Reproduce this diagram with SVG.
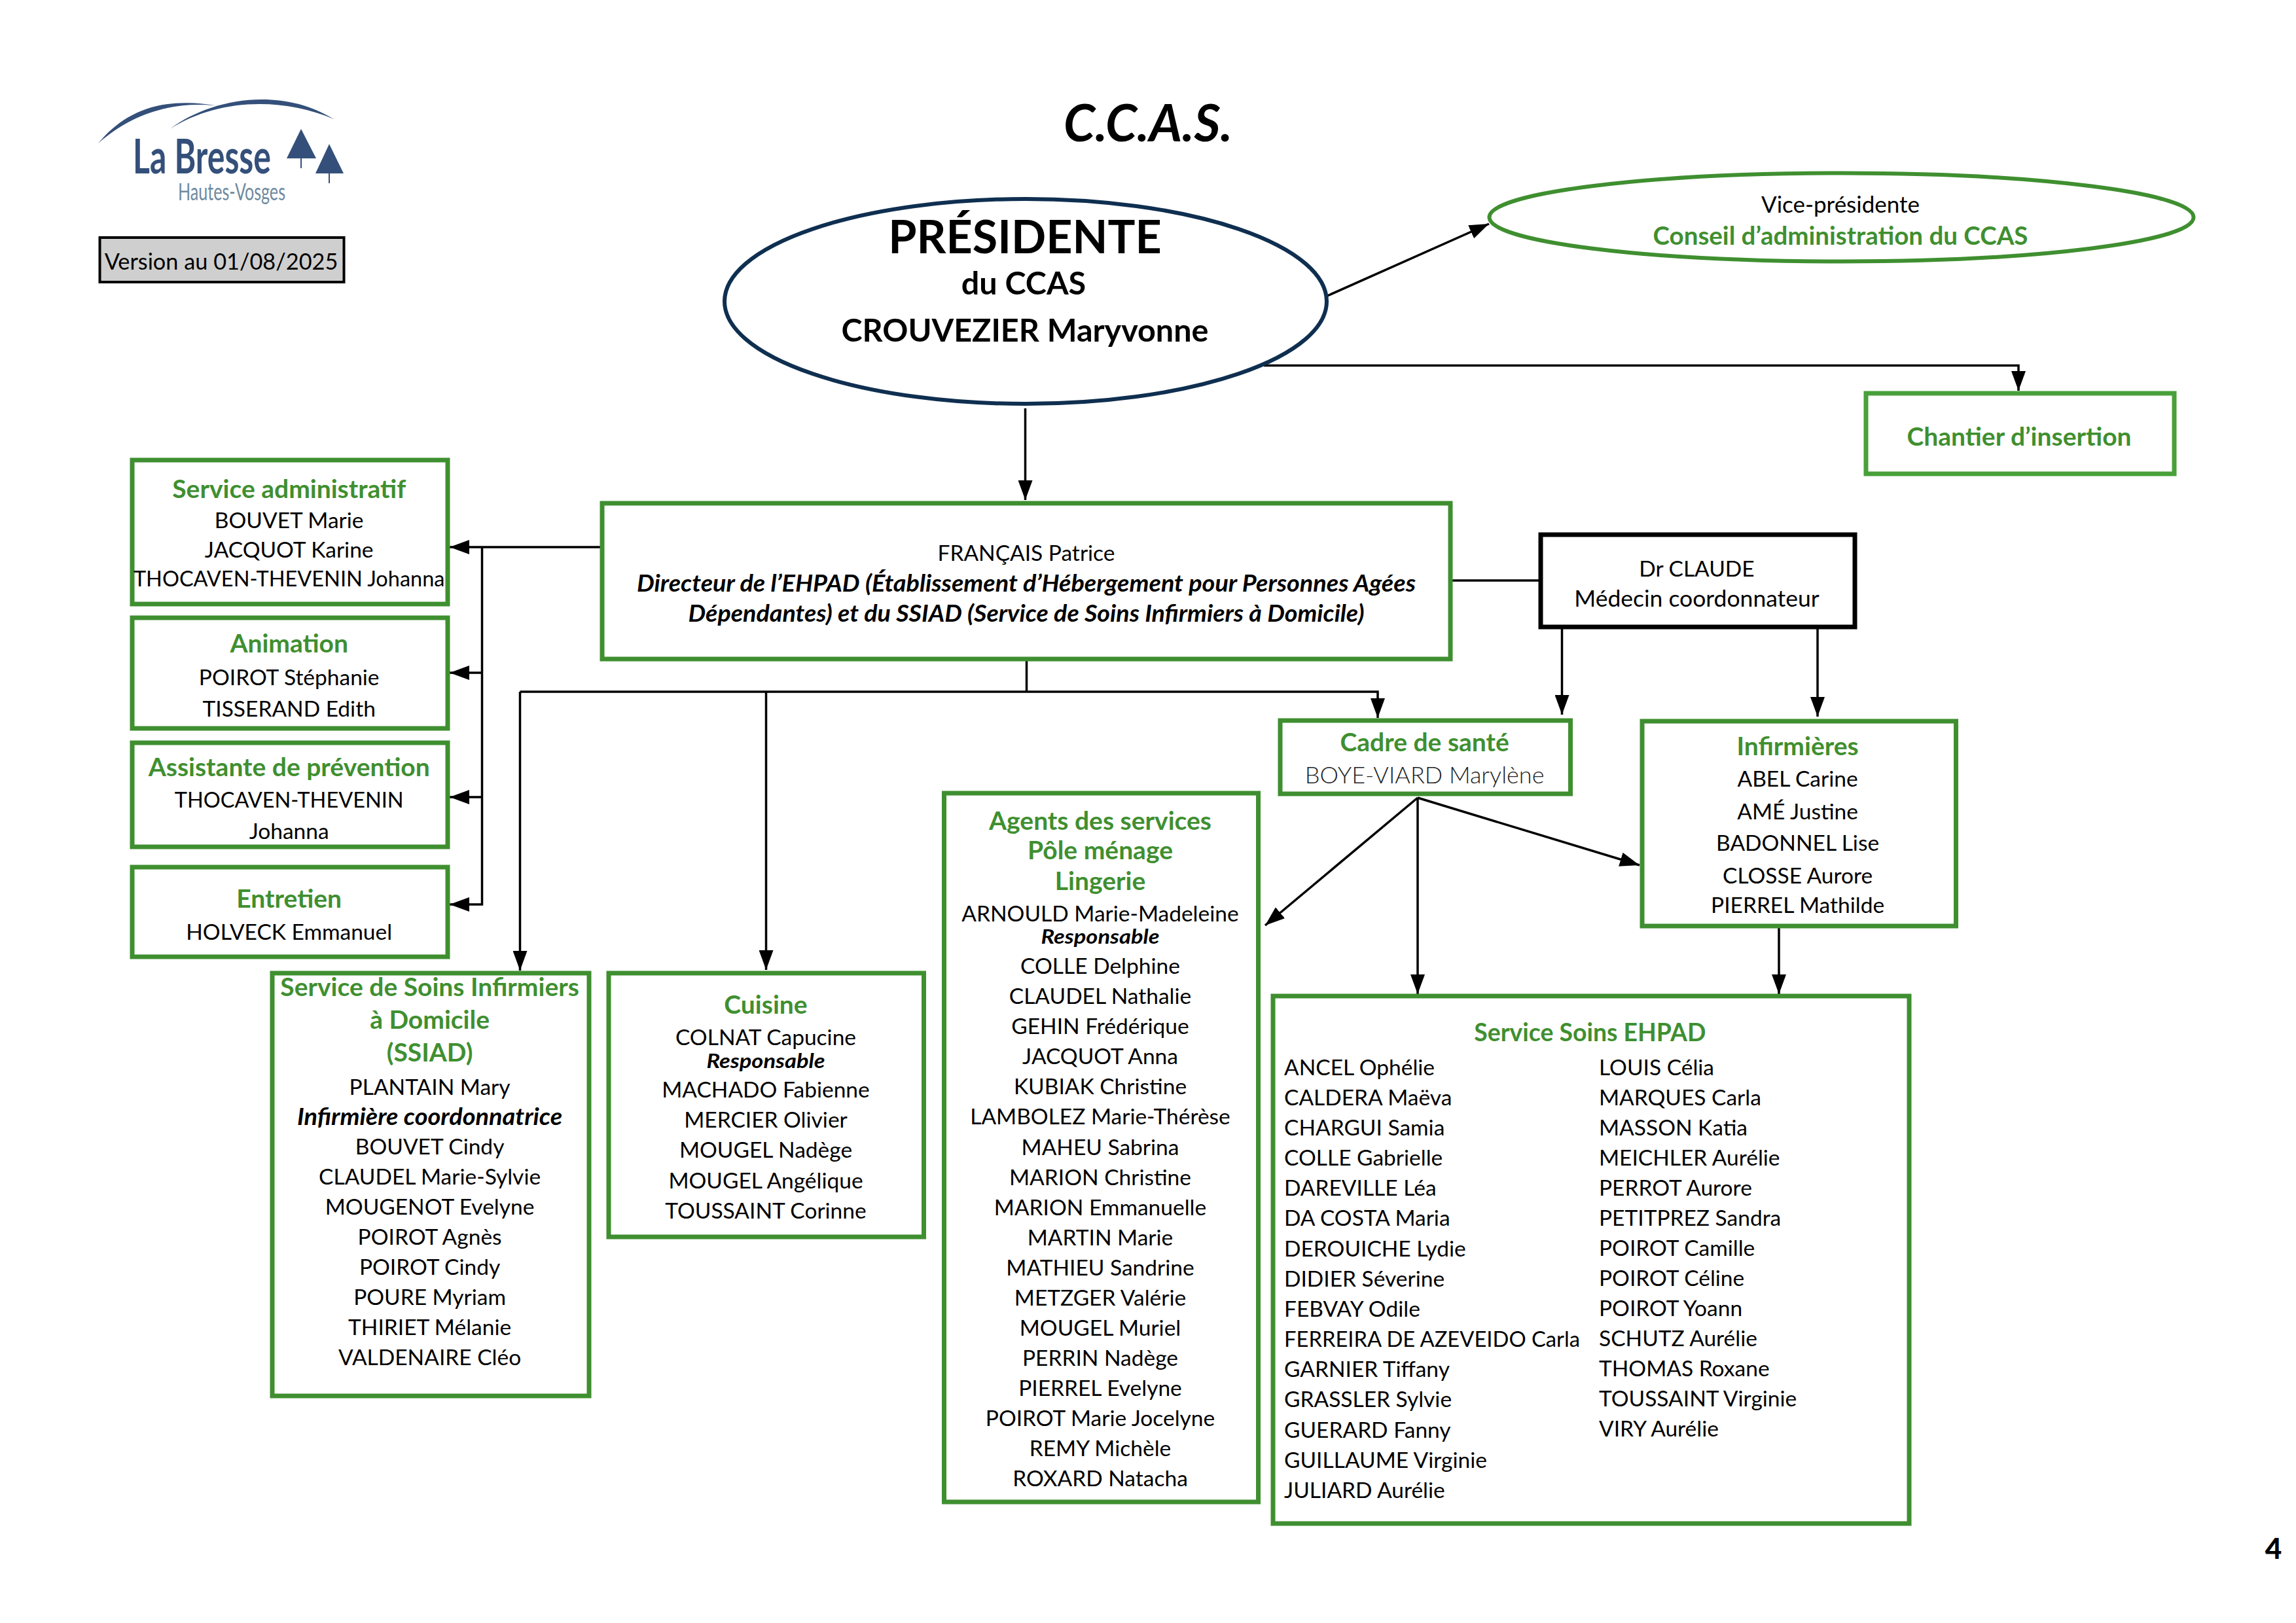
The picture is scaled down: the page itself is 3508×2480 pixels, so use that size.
<svg xmlns="http://www.w3.org/2000/svg" width="3508" height="2480" viewBox="0 0 3508 2480">
<style>
text{font-family:"Lato","Carlito","Liberation Sans",sans-serif;fill:#000;text-anchor:middle;transform:translateY(2px)}
.n{font-size:33.5px}
.t{font-size:39px;font-weight:700;fill:#3f8f30}
.r{font-size:31px;font-weight:700;font-style:italic}
.i{font-size:35.5px;font-weight:700;font-style:italic}
.p{font-size:48.5px;font-weight:700}
.l{text-anchor:start}
.box{fill:#fff;stroke:#3f8f30;stroke-width:7}
.con{fill:none;stroke:#000;stroke-width:3.5}
</style>
<defs>
<marker id="a" markerUnits="userSpaceOnUse" markerWidth="30" markerHeight="22" refX="30" refY="11" orient="auto"><path d="M0 0L30 11L0 22Z" fill="#000"/></marker>
</defs>
<rect width="3508" height="2480" fill="#fff"/>
<g id="logo">
<path d="M150 219C190 171 245 146 335 162C268 154 204 171 150 219Z" fill="#34507a"/>
<path d="M260 197C320 151 428 131 510 182C428 147 330 152 260 197Z" fill="#34507a"/>
<path d="M460 197L438 242H483Z" fill="#34507a"/><path d="M460 242V257" stroke="#34507a" stroke-width="2"/>
<path d="M503 220L482 265H525Z" fill="#34507a"/><path d="M503 265V280" stroke="#34507a" stroke-width="2"/>
<text x="203" y="263" style="text-anchor:start;font-size:72px;font-weight:700;fill:#34507a" textLength="211" lengthAdjust="spacingAndGlyphs">La Bresse</text>
<text x="272" y="304" style="text-anchor:start;font-size:36px;fill:#6f8ba0" textLength="164" lengthAdjust="spacingAndGlyphs">Hautes-Vosges</text>
</g>
<g id="version"><rect x="152.5" y="363" width="373" height="68" fill="#cfcfcf" stroke="#000" stroke-width="4"/><text x="338" y="410" style="font-size:34.3px">Version au 01/08/2025</text></g>
<g id="title"><text x="1754" y="214" style="font-size:78px;font-weight:700;font-style:italic" textLength="258" lengthAdjust="spacingAndGlyphs">C.C.A.S.</text></g>
<g id="connectors">
<path class="con" d="M1566.5 624V764" marker-end="url(#a)"/>
<path class="con" d="M2028 452L2275 342" marker-end="url(#a)"/>
<path class="con" d="M1931 558.5H3084V597" marker-end="url(#a)"/>
<path class="con" d="M917 836H687" marker-end="url(#a)"/>
<path class="con" d="M736.5 836V1382H687" marker-end="url(#a)"/>
<path class="con" d="M736.5 1028H687" marker-end="url(#a)"/>
<path class="con" d="M736.5 1218H687" marker-end="url(#a)"/>
<path class="con" d="M2212 887H2354"/>
<path class="con" d="M1568.5 1010V1057"/>
<path class="con" d="M794.5 1057H2105V1097" marker-end="url(#a)"/>
<path class="con" d="M794.5 1057V1483" marker-end="url(#a)"/>
<path class="con" d="M1170.5 1057V1482" marker-end="url(#a)"/>
<path class="con" d="M2386.5 958V1092" marker-end="url(#a)"/>
<path class="con" d="M2777 958V1095" marker-end="url(#a)"/>
<path class="con" d="M2166 1219L1933 1414" marker-end="url(#a)"/>
<path class="con" d="M2166 1219V1519" marker-end="url(#a)"/>
<path class="con" d="M2166 1219L2505 1322" marker-end="url(#a)"/>
<path class="con" d="M2718 1416V1519" marker-end="url(#a)"/>
</g>
<g id="president"><ellipse cx="1567" cy="460.5" rx="460" ry="156.5" fill="#fff" stroke="#0f2f50" stroke-width="6"/>
<text x="1566" y="385" style="font-size:70px;font-weight:700">PRÉSIDENTE</text><text x="1564" y="448" class="p">du CCAS</text><text x="1566" y="520" class="p">CROUVEZIER Maryvonne</text></g>
<g id="vice"><ellipse cx="2813.5" cy="332" rx="538" ry="67.5" fill="#fff" stroke="#3f8f30" stroke-width="6"/><text x="2812" y="323" style="font-size:35px">Vice-présidente</text><text x="2812" y="372" class="t" textLength="573" lengthAdjust="spacingAndGlyphs">Conseil d’administration du CCAS</text></g>
<g id="chantier"><rect class="box" x="2851" y="601" width="471" height="123" style="stroke:#48a03a"/><text x="3085" y="679" class="t">Chantier d’insertion</text></g>
<g id="directeur"><rect class="box" x="920" y="769" width="1296" height="238"/><text x="1568" y="855" class="n">FRANÇAIS Patrice</text><text x="1568" y="902" class="i" textLength="1190" lengthAdjust="spacingAndGlyphs">Directeur de l’EHPAD (Établissement d’Hébergement pour Personnes Agées</text><text x="1568" y="948" class="i" textLength="1033" lengthAdjust="spacingAndGlyphs">Dépendantes) et du SSIAD (Service de Soins Infirmiers à Domicile)</text></g>
<g id="medecin"><rect x="2354" y="817" width="480" height="141" fill="#fff" stroke="#000" stroke-width="7"/><text x="2592.5" y="879" class="n">Dr CLAUDE</text><text x="2592.5" y="925" style="font-size:35.5px">Médecin coordonnateur</text></g>
<g id="admin"><rect class="box" x="202" y="703" width="482" height="220"/><text x="441.7" y="759" class="t">Service administratif</text><text x="441.7" y="805" class="n">BOUVET Marie</text><text x="441.7" y="850" class="n">JACQUOT Karine</text><text x="441.7" y="894" style="font-size:32.5px">THOCAVEN-THEVENIN Johanna</text></g>
<g id="animation"><rect class="box" x="202" y="944" width="482" height="169"/><text x="441.7" y="995" class="t">Animation</text><text x="441.7" y="1045" class="n">POIROT Stéphanie</text><text x="441.7" y="1093" class="n">TISSERAND Edith</text></g>
<g id="prevention"><rect class="box" x="202" y="1135" width="482" height="159"/><text x="441.7" y="1184" class="t">Assistante de prévention</text><text x="441.7" y="1232" style="font-size:32.5px">THOCAVEN-THEVENIN</text><text x="441.7" y="1280" class="n">Johanna</text></g>
<g id="entretien"><rect class="box" x="202" y="1325" width="482" height="137"/><text x="441.7" y="1385" class="t">Entretien</text><text x="441.7" y="1434" class="n">HOLVECK Emmanuel</text></g>
<g id="ssiad"><rect class="box" x="416" y="1487" width="484" height="646"/><text x="656.6" y="1520" class="t">Service de Soins Infirmiers</text><text x="656.6" y="1570" class="t">à Domicile</text><text x="656.6" y="1620" class="t">(SSIAD)</text><text x="656.6" y="1671" class="n">PLANTAIN Mary</text><text x="656.6" y="1717" class="i" textLength="405" lengthAdjust="spacingAndGlyphs">Infirmière coordonnatrice</text><text x="656.6" y="1762" class="n">BOUVET Cindy</text><text x="656.6" y="1808" class="n">CLAUDEL Marie-Sylvie</text><text x="656.6" y="1853.5" class="n">MOUGENOT Evelyne</text><text x="656.6" y="1900" class="n">POIROT Agnès</text><text x="656.6" y="1946" class="n">POIROT Cindy</text><text x="656.6" y="1992" class="n">POURE Myriam</text><text x="656.6" y="2038" class="n">THIRIET Mélanie</text><text x="656.6" y="2084" class="n">VALDENAIRE Cléo</text></g>
<g id="cuisine"><rect class="box" x="930" y="1487" width="481.5" height="403"/><text x="1170" y="1547" class="t">Cuisine</text><text x="1170" y="1595" class="n">COLNAT Capucine</text><text x="1170" y="1630" class="r" textLength="181" lengthAdjust="spacingAndGlyphs">Responsable</text><text x="1170" y="1675" class="n">MACHADO Fabienne</text><text x="1170" y="1721" class="n">MERCIER Olivier</text><text x="1170" y="1767" class="n">MOUGEL Nadège</text><text x="1170" y="1814" class="n">MOUGEL Angélique</text><text x="1170" y="1860" class="n">TOUSSAINT Corinne</text></g>
<g id="agents"><rect class="box" x="1442.5" y="1212" width="480" height="1083"/><text x="1681" y="1266" class="t">Agents des services</text><text x="1681" y="1311" class="t">Pôle ménage</text><text x="1681" y="1358" class="t">Lingerie</text><text x="1681" y="1405.5" class="n">ARNOULD Marie-Madeleine</text><text x="1681" y="1439.5" class="r" textLength="181" lengthAdjust="spacingAndGlyphs">Responsable</text><text x="1681" y="1486" class="n">COLLE Delphine</text><text x="1681" y="1532" class="n">CLAUDEL Nathalie</text><text x="1681" y="1578" class="n">GEHIN Frédérique</text><text x="1681" y="1624" class="n">JACQUOT Anna</text><text x="1681" y="1670" class="n">KUBIAK Christine</text><text x="1681" y="1716" class="n">LAMBOLEZ Marie-Thérèse</text><text x="1681" y="1763" class="n">MAHEU Sabrina</text><text x="1681" y="1809" class="n">MARION Christine</text><text x="1681" y="1855" class="n">MARION Emmanuelle</text><text x="1681" y="1901" class="n">MARTIN Marie</text><text x="1681" y="1947" class="n">MATHIEU Sandrine</text><text x="1681" y="1993" class="n">METZGER Valérie</text><text x="1681" y="2039" class="n">MOUGEL Muriel</text><text x="1681" y="2085" class="n">PERRIN Nadège</text><text x="1681" y="2131" class="n">PIERREL Evelyne</text><text x="1681" y="2177" class="n">POIROT Marie Jocelyne</text><text x="1681" y="2223" class="n">REMY Michèle</text><text x="1681" y="2269" class="n">ROXARD Natacha</text></g>
<g id="cadre"><rect class="box" x="1956" y="1101" width="443.5" height="112"/><text x="2176.6" y="1146" class="t">Cadre de santé</text><text x="2176.6" y="1195" style="font-size:36px;font-weight:300;fill:#222">BOYE-VIARD Marylène</text></g>
<g id="infirmieres"><rect class="box" x="2509" y="1102" width="479.5" height="313"/><text x="2746.6" y="1152" class="t">Infirmières</text><text x="2746.6" y="1200" class="n">ABEL Carine</text><text x="2746.6" y="1250" class="n">AMÉ Justine</text><text x="2746.6" y="1298" class="n">BADONNEL Lise</text><text x="2746.6" y="1348" class="n">CLOSSE Aurore</text><text x="2746.6" y="1393" class="n">PIERREL Mathilde</text></g>
<g id="ehpad"><rect class="box" x="1945" y="1522" width="972" height="806"/><text x="2429.3" y="1589" class="t" textLength="354" lengthAdjust="spacingAndGlyphs">Service Soins EHPAD</text>
<g><text x="1962" y="1641" class="n l">ANCEL Ophélie</text><text x="1962" y="1687" class="n l">CALDERA Maëva</text><text x="1962" y="1733" class="n l">CHARGUI Samia</text><text x="1962" y="1779" class="n l">COLLE Gabrielle</text><text x="1962" y="1825" class="n l">DAREVILLE Léa</text><text x="1962" y="1871" class="n l">DA COSTA Maria</text><text x="1962" y="1917.5" class="n l">DEROUICHE Lydie</text><text x="1962" y="1964" class="n l">DIDIER Séverine</text><text x="1962" y="2010" class="n l">FEBVAY Odile</text><text x="1962" y="2056" class="n l" textLength="452" lengthAdjust="spacingAndGlyphs">FERREIRA DE AZEVEIDO Carla</text><text x="1962" y="2102" class="n l">GARNIER Tiffany</text><text x="1962" y="2148" class="n l">GRASSLER Sylvie</text><text x="1962" y="2194.5" class="n l">GUERARD Fanny</text><text x="1962" y="2241" class="n l">GUILLAUME Virginie</text><text x="1962" y="2287" class="n l">JULIARD Aurélie</text></g>
<g><text x="2443" y="1641" class="n l">LOUIS Célia</text><text x="2443" y="1687" class="n l">MARQUES Carla</text><text x="2443" y="1733" class="n l">MASSON Katia</text><text x="2443" y="1779" class="n l">MEICHLER Aurélie</text><text x="2443" y="1825" class="n l">PERROT Aurore</text><text x="2443" y="1871" class="n l">PETITPREZ Sandra</text><text x="2443" y="1917" class="n l">POIROT Camille</text><text x="2443" y="1963" class="n l">POIROT Céline</text><text x="2443" y="2009" class="n l">POIROT Yoann</text><text x="2443" y="2055" class="n l">SCHUTZ Aurélie</text><text x="2443" y="2101" class="n l">THOMAS Roxane</text><text x="2443" y="2147" class="n l">TOUSSAINT Virginie</text><text x="2443" y="2193" class="n l">VIRY Aurélie</text></g></g>
<g id="page"><text x="3473.5" y="2380" style="font-size:44px;font-weight:900">4</text></g>
</svg>
